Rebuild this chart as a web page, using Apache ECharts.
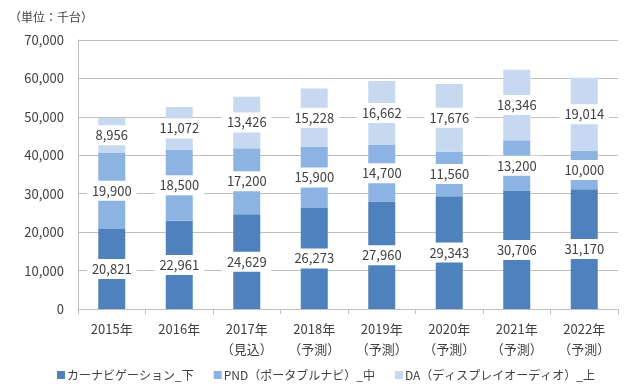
<!DOCTYPE html>
<html><head><meta charset="utf-8">
<script src="https://cdn.jsdelivr.net/npm/echarts@6/dist/echarts.min.js"></script>
<style>html,body{margin:0;padding:0;background:#fff}#c{width:640px;height:388px}</style>
</head><body><div id="c"></div>
<script>
const categories = ['2015年','2016年','2017年\n（見込）','2018年\n（予測）','2019年\n（予測）','2020年\n（予測）','2021年\n（予測）','2022年\n（予測）'];
const carNavi = [20821,22961,24629,26273,27960,29343,30706,31170];
const pnd = [19900,18500,17200,15900,14700,11560,13200,10000];
const da = [8956,11072,13426,15228,16662,17676,18346,19014];
const seriesNames = ['カーナビゲーション_下','PND（ポータブルナビ）_中','DA（ディスプレイオーディオ）_上'];
const colors = ['#4f81bd','#8db3e2','#c6d9f1'];
const font = '"Noto Sans CJK JP", sans-serif';
const chart = echarts.init(document.getElementById('c'));
const label = {show:true,position:'inside',color:'#404040',fontSize:13,fontFamily:font,backgroundColor:'#fff',padding:[4,5,3,5],
  formatter:p=>p.value.toLocaleString('en-US')};
function mk(name,data,color){return {name,type:'bar',stack:'a',data,barWidth:27,itemStyle:{color},label};}
chart.setOption({
  animation:false,
  textStyle:{fontFamily:font},
  title:{text:'（単位：千台）',left:4,top:6,textStyle:{fontSize:12,fontWeight:'normal',color:'#404040',fontFamily:font}},
  grid:{left:78,right:22,top:40,bottom:79},
  legend:{left:52,top:364,itemWidth:8,itemHeight:8,itemGap:20,icon:'rect',
    textStyle:{fontSize:12,color:'#404040',fontFamily:font,padding:[0,0,0,-3]},data:seriesNames},
  xAxis:{type:'category',data:categories,
    axisLine:{lineStyle:{color:'#bfbfbf'}},axisTick:{show:true,length:5,lineStyle:{color:'#bfbfbf'}},
    axisLabel:{color:'#404040',fontSize:13,lineHeight:20,margin:10,fontFamily:font,interval:0}},
  yAxis:{type:'value',min:0,max:70000,interval:10000,
    axisLine:{show:true,lineStyle:{color:'#bfbfbf'}},axisTick:{show:false},
    splitLine:{lineStyle:{color:'#bfbfbf'}},
    axisLabel:{color:'#404040',fontSize:13,margin:14,fontFamily:font,formatter:v=>v.toLocaleString('en-US')}},
  series:[mk(seriesNames[0],carNavi,colors[0]),mk(seriesNames[1],pnd,colors[1]),mk(seriesNames[2],da,colors[2])]
});
</script></body></html>
